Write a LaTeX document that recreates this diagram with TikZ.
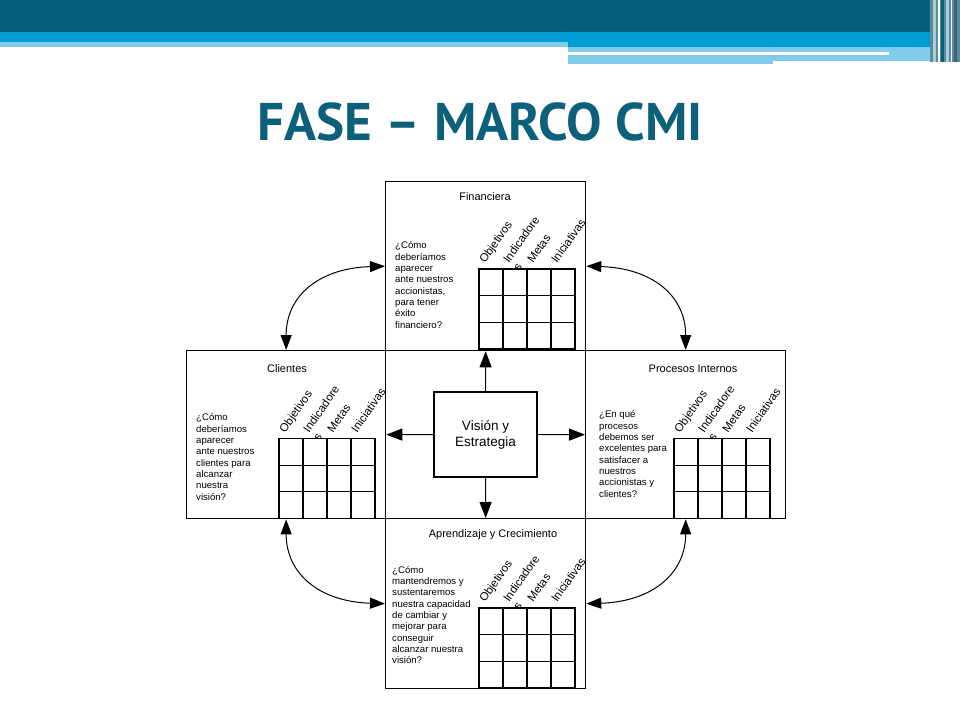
\documentclass[tikz,border=0pt]{standalone}
\usepackage{fontspec}
\setmainfont{Liberation Sans}
\newfontfamily\titlefont{PT Sans}
\usetikzlibrary{arrows.meta}
\definecolor{darkteal}{RGB}{4,96,122}
\definecolor{brightblue}{RGB}{0,156,214}
\definecolor{lightblue}{RGB}{128,204,234}
\definecolor{titleteal}{RGB}{12,96,122}
\definecolor{stripeA}{RGB}{90,140,160}
\definecolor{stripeB}{RGB}{170,205,220}

\newcommand\cmigrid[3]{%
  \node[hdr] (#3obj) at (#1+6,#2-5) {Objetivos};
  \node[hdr] (#3ind) at (#1+30,#2-5) {Indicadore};
  \node[hdr] (#3inds) at (#1+40,#2+3) {s};
  \node[hdr] (#3met) at (#1+54,#2-5) {Metas};
  \node[hdr] (#3ini) at (#1+78,#2-5) {Iniciativas};
  \draw[gridline,fill=white] (#1,#2) rectangle ++(96,80);
  \foreach \i in {1,2,3} {\draw[gridline] (#1+24*\i,#2) -- ++(0,80);}
  \foreach \j in {1,2} {\draw[gridline] (#1,#2+26.67*\j) -- ++(96,0);}
}

\begin{document}
\begin{tikzpicture}[x=1pt,y=-1pt,
  persp/.style={draw,line width=1.3pt,inner sep=0,anchor=north west},
  ttl/.style={font=\fontsize{11}{13}\selectfont,inner sep=0},
  quest/.style={font=\fontsize{9.6}{11.3}\selectfont,align=left,inner sep=0,anchor=west},
  hdr/.style={font=\fontsize{11.5}{12}\selectfont,rotate=55,anchor=base west,inner sep=0},
  gridline/.style={line width=1.3pt},
  biarrow/.style={{Triangle[length=15pt,width=11pt]}-{Triangle[length=15pt,width=11pt]},line width=1pt},
  onearrow/.style={-{Triangle[length=16pt,width=12pt]},line width=1pt}]
\useasboundingbox (0,0) rectangle (960,720);
\fill[white] (0,0) rectangle (960,720);
% header bands
\fill[darkteal] (0,0) rectangle (960,32);
\fill[brightblue] (0,32) rectangle (960,42);
\fill[lightblue] (0,42) rectangle (568,47);
\fill[brightblue] (568,42) rectangle (935,47);
\fill[lightblue] (568,47) rectangle (935,61);
\fill[lightblue] (568,61) rectangle (773,64);
\fill[white] (568,52) rectangle (889,54.5);
\fill[stripeA] (930,0) rectangle (960,62);
\fill[stripeB] (933,0) rectangle (936,62);
\fill[white] (938,0) rectangle (939.5,62);
\fill[darkteal] (941,0) rectangle (944,62);
\fill[stripeB] (946,0) rectangle (949,62);
\fill[white] (951,0) rectangle (952,62);
\fill[stripeA!70!black] (954,0) rectangle (957,62);
% title
\node[font=\titlefont\bfseries\fontsize{53}{58}\selectfont,text=titleteal,inner sep=0,anchor=base] (title) at (480,140) {FASE – MARCO CMI};
% perspective boxes
\node[persp,minimum width=200pt,minimum height=169pt] (fin) at (385,181) {};
\node[persp,minimum width=199pt,minimum height=168pt] (cli) at (186,350) {};
\node[persp,minimum width=200pt,minimum height=168pt] (pro) at (585,350) {};
\node[persp,minimum width=200pt,minimum height=170pt] (apr) at (385,518) {};
% titles
\node[ttl] (finT) at (485,197) {Financiera};
\node[ttl] (cliT) at (287,369) {Clientes};
\node[ttl] (proT) at (693,369) {Procesos Internos};
\node[ttl] (aprT) at (493,535) {Aprendizaje y Crecimiento};
% questions
\node[quest] (finQ) at (395,285) {¿Cómo\\deberíamos\\aparecer\\ante nuestros\\accionistas,\\para tener\\éxito\\financiero?};
\node[quest] (cliQ) at (196,457) {¿Cómo\\deberíamos\\aparecer\\ante nuestros\\clientes para\\alcanzar\\nuestra\\visión?};
\node[quest] (proQ) at (599,454) {¿En qué\\procesos\\debemos ser\\excelentes para\\satisfacer a\\nuestros\\accionistas y\\clientes?};
\node[quest] (aprQ) at (392,615) {¿Cómo\\mantendremos y\\sustentaremos\\nuestra capacidad\\de cambiar y\\mejorar para\\conseguir\\alcanzar nuestra\\visión?};
% grids
\cmigrid{479}{269}{fin}
\cmigrid{279}{438.5}{cli}
\cmigrid{674}{438.5}{pro}
\cmigrid{479}{608}{apr}
% vision
\node[draw,line width=1.3pt,minimum width=103pt,minimum height=85pt,align=center,font=\fontsize{13.5}{16}\selectfont] (vis) at (485.5,434.5) {Visión y\\Estrategia};
\draw[onearrow] (vis.north) -- (fin.south);
\draw[onearrow] (vis.south) -- (apr.north);
\draw[onearrow] (vis.west) -- (cli.east);
\draw[onearrow] (vis.east) -- (pro.west);
% curved arrows
\draw[biarrow] (fin.west) .. controls +(-65,2) and +(0,-55) .. (cli.north);
\draw[biarrow] (fin.east) .. controls +(65,2) and +(0,-55) .. (pro.north);
\draw[biarrow] (cli.south) .. controls +(0,55) and +(-65,-2) .. (apr.west);
\draw[biarrow] (pro.south) .. controls +(0,55) and +(65,-2) .. (apr.east);
\end{tikzpicture}
\end{document}
